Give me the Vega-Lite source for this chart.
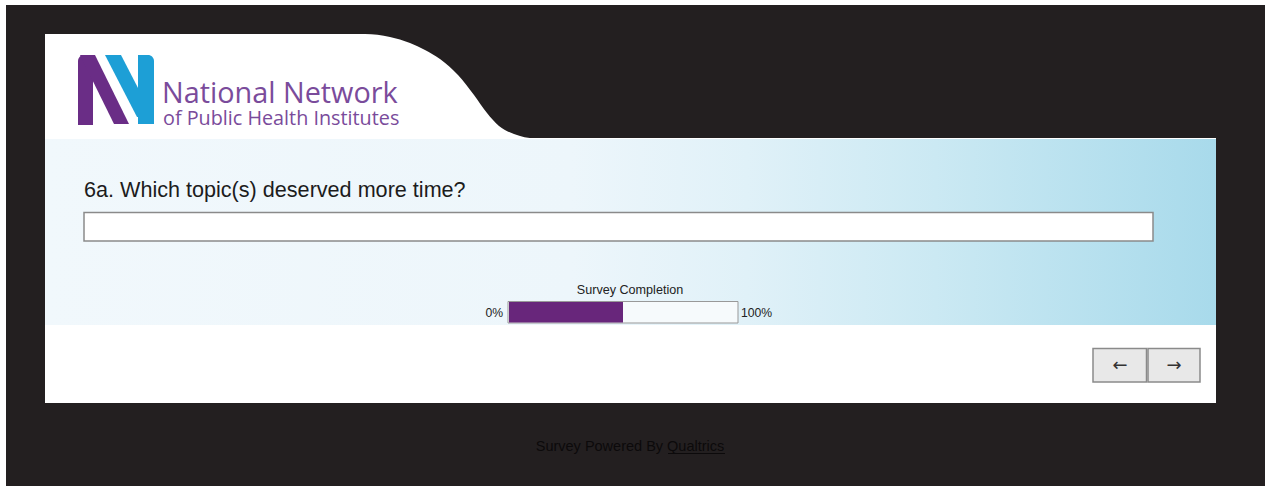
{
  "$schema": "https://vega.github.io/schema/vega-lite/v6.json",
  "autosize": {"type": "fit", "contains": "padding"},
  "width": 1265,
  "height": 486,
  "padding": 0,
  "background": "#ffffff",
  "config": {"view": {"stroke": null}, "axis": {"disable": true}},
  "encoding": {
    "x": {"field": "x", "type": "quantitative", "scale": {"domain": [0, 1265], "nice": false, "zero": false}, "axis": null},
    "y": {"field": "y", "type": "quantitative", "scale": {"domain": [0, 486], "nice": false, "zero": false, "reverse": true}, "axis": null}
  },
  "layer": [
    {
      "data": {"values": [{"part": "page", "x": 6, "x2": 1265, "y": 5, "y2": 486}]},
      "mark": {"type": "rect", "fill": "#231f20"},
      "encoding": {"x2": {"field": "x2"}, "y2": {"field": "y2"}}
    },
    {
      "data": {"values": [{"part": "panel", "x": 45, "x2": 1216, "y": 138, "y2": 403}]},
      "mark": {"type": "rect", "fill": "#ffffff"},
      "encoding": {"x2": {"field": "x2"}, "y2": {"field": "y2"}}
    },
    {
      "data": {"values": [
        {"x": 45, "y": 34, "y2": 140},
        {"x": 365, "y": 34, "y2": 140},
        {"x": 390, "y": 37, "y2": 140},
        {"x": 410, "y": 43, "y2": 140},
        {"x": 425, "y": 50, "y2": 140},
        {"x": 440, "y": 59, "y2": 140},
        {"x": 458, "y": 75, "y2": 140},
        {"x": 474, "y": 95, "y2": 140},
        {"x": 487, "y": 113, "y2": 140},
        {"x": 499, "y": 126, "y2": 140},
        {"x": 514, "y": 134, "y2": 140},
        {"x": 535, "y": 138.5, "y2": 140},
        {"x": 565, "y": 139, "y2": 140}
      ]},
      "mark": {"type": "area", "fill": "#ffffff", "interpolate": "monotone"},
      "encoding": {"y2": {"field": "y2"}}
    },
    {
      "data": {"values": [{"part": "band", "x": 45, "x2": 1216, "y": 139, "y2": 325}]},
      "mark": {
        "type": "rect",
        "color": {
          "gradient": "linear", "x1": 0, "y1": 0, "x2": 1, "y2": 0,
          "stops": [
            {"offset": 0, "color": "#f1f8fc"},
            {"offset": 0.45, "color": "#edf6fb"},
            {"offset": 0.6, "color": "#e0f1f8"},
            {"offset": 0.76, "color": "#cbe9f3"},
            {"offset": 1, "color": "#a8daeb"}
          ]
        }
      },
      "encoding": {"x2": {"field": "x2"}, "y2": {"field": "y2"}}
    },
    {
      "data": {"values": [{"part": "purple bar", "x": 78, "x2": 93, "y": 55, "y2": 125}]},
      "mark": {"type": "rect", "fill": "#6a2d86", "cornerRadiusTopLeft": 6},
      "encoding": {"x2": {"field": "x2"}, "y2": {"field": "y2"}}
    },
    {
      "data": {"values": [
        {"y": 55, "x": 80, "x2": 95},
        {"y": 124, "x": 114, "x2": 129}
      ]},
      "mark": {"type": "area", "orient": "horizontal", "fill": "#6a2d86"},
      "encoding": {"x2": {"field": "x2"}}
    },
    {
      "data": {"values": [
        {"y": 55, "x": 105, "x2": 121},
        {"y": 117, "x": 137, "x2": 153}
      ]},
      "mark": {"type": "area", "orient": "horizontal", "fill": "#1d9fd6"},
      "encoding": {"x2": {"field": "x2"}}
    },
    {
      "data": {"values": [{"part": "cyan bar", "x": 138, "x2": 154, "y": 55, "y2": 124}]},
      "mark": {"type": "rect", "fill": "#1d9fd6", "cornerRadiusTopRight": 6},
      "encoding": {"x2": {"field": "x2"}, "y2": {"field": "y2"}}
    },
    {
      "data": {"values": [{"label": "National Network", "x": 162, "y": 103}]},
      "mark": {"type": "text", "align": "left", "baseline": "alphabetic", "font": "Open Sans", "fontSize": 28.8, "fill": "#7a4b9b"},
      "encoding": {"text": {"field": "label"}}
    },
    {
      "data": {"values": [{"label": "of Public Health Institutes", "x": 163, "y": 125}]},
      "mark": {"type": "text", "align": "left", "baseline": "alphabetic", "font": "Open Sans", "fontSize": 19.8, "fill": "#7a4b9b"},
      "encoding": {"text": {"field": "label"}}
    },
    {
      "data": {"values": [{"label": "6a. Which topic(s) deserved more time?", "x": 84, "y": 197}]},
      "mark": {"type": "text", "align": "left", "baseline": "alphabetic", "font": "Liberation Sans", "fontSize": 21.6, "fill": "#1c1c1c"},
      "encoding": {"text": {"field": "label"}}
    },
    {
      "data": {"values": [{"part": "answer box", "x": 84, "x2": 1153, "y": 212.5, "y2": 241}]},
      "mark": {"type": "rect", "fill": "#ffffff", "stroke": "#8a8a8a", "strokeWidth": 1.5},
      "encoding": {"x2": {"field": "x2"}, "y2": {"field": "y2"}}
    },
    {
      "data": {"values": [{"label": "Survey Completion", "x": 630, "y": 294}]},
      "mark": {"type": "text", "align": "center", "baseline": "alphabetic", "font": "Liberation Sans", "fontSize": 12.6, "fill": "#222222"},
      "encoding": {"text": {"field": "label"}}
    },
    {
      "data": {"values": [{"part": "progress track", "x": 508, "x2": 738, "y": 301.5, "y2": 323}]},
      "mark": {"type": "rect", "fill": "#f6fafc", "stroke": "#999999", "strokeWidth": 1},
      "encoding": {"x2": {"field": "x2"}, "y2": {"field": "y2"}}
    },
    {
      "data": {"values": [{"part": "progress done", "x": 509, "x2": 623, "y": 302, "y2": 322.5}]},
      "mark": {"type": "rect", "fill": "#68267b"},
      "encoding": {"x2": {"field": "x2"}, "y2": {"field": "y2"}}
    },
    {
      "data": {"values": [{"label": "0%", "x": 503, "y": 317}]},
      "mark": {"type": "text", "align": "right", "baseline": "alphabetic", "font": "Liberation Sans", "fontSize": 12.2, "fill": "#222222"},
      "encoding": {"text": {"field": "label"}}
    },
    {
      "data": {"values": [{"label": "100%", "x": 741, "y": 317}]},
      "mark": {"type": "text", "align": "left", "baseline": "alphabetic", "font": "Liberation Sans", "fontSize": 12.2, "fill": "#222222"},
      "encoding": {"text": {"field": "label"}}
    },
    {
      "data": {"values": [
        {"part": "back", "x": 1093, "x2": 1146.5, "y": 348.5, "y2": 382},
        {"part": "next", "x": 1148, "x2": 1200, "y": 348.5, "y2": 382}
      ]},
      "mark": {"type": "rect", "fill": "#e8e8e8", "stroke": "#8a8a8a", "strokeWidth": 1.5},
      "encoding": {"x2": {"field": "x2"}, "y2": {"field": "y2"}}
    },
    {
      "data": {"values": [
        {"label": "←", "x": 1120, "y": 366},
        {"label": "→", "x": 1174, "y": 366}
      ]},
      "mark": {"type": "text", "align": "center", "baseline": "middle", "font": "DejaVu Sans", "fontSize": 18, "fill": "#333333"},
      "encoding": {"text": {"field": "label"}}
    },
    {
      "data": {"values": [{"label": "Survey Powered By Qualtrics", "x": 630, "y": 451}]},
      "mark": {"type": "text", "align": "center", "baseline": "alphabetic", "font": "Liberation Sans", "fontSize": 14.5, "fill": "#0c0a0b"},
      "encoding": {"text": {"field": "label"}}
    },
    {
      "data": {"values": [{"part": "link underline", "x": 668, "x2": 725, "y": 453.5}]},
      "mark": {"type": "rule", "stroke": "#0c0a0b", "strokeWidth": 1},
      "encoding": {"x2": {"field": "x2"}}
    }
  ]
}
